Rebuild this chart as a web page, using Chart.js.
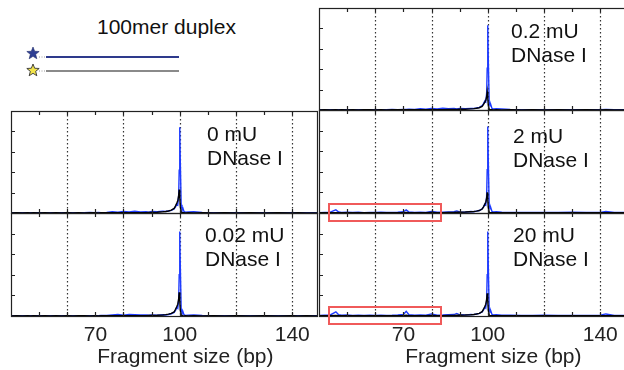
<!DOCTYPE html>
<html>
<head>
<meta charset="utf-8">
<script src="https://cdn.jsdelivr.net/npm/chart.js@4.4.1/dist/chart.umd.min.js"></script>
<style>
  html, body { margin: 0; padding: 0; background: #fff; overflow: hidden; }
  #wrap { position: relative; width: 624px; height: 370px; overflow: hidden;
          font-family: "Liberation Sans", Arial, sans-serif; color: #111; }
  #wrap canvas { position: absolute; z-index: 1; }
  .lbl { position: absolute; font-size: 21px; line-height: 24px; white-space: nowrap; z-index: 3; }
  .xtitle { position: absolute; font-size: 21px; line-height: 24px; white-space: nowrap;
            color: #222; transform: translateX(-50%); z-index: 3; }
  .redbox { position: absolute; border: 2px solid #f05a5a; box-sizing: border-box; z-index: 5; }
  #legend { position: absolute; left: 0; top: 0; }
</style>
</head>
<body>
<div id="wrap">
  <div class="lbl" style="left:97px; top:15px;">100mer duplex</div>
  <svg id="legend" width="200" height="90"></svg>
</div>
<script>
// fragment sizes (bp) shared by every trace
const sizes = [40, 42, 44, 46, 47, 48, 50, 52, 54, 56,
  58, 60, 62, 64, 66, 68, 70, 71, 72, 74,
  76, 78, 80, 82, 84, 86, 88, 89, 90, 92,
  94, 95, 96, 97, 98, 98.5, 99, 99.3, 99.6, 99.8,
  100, 100.2, 100.5, 100.8, 101.1, 101.5, 102, 103, 105, 108,
  112, 116, 120, 125, 130, 135, 140, 142, 145, 151];

// 0 mU DNase I
const blue0 = [0.002, 0.003, 0.002, 0.003, 0.002, 0.003, 0.002, 0.003, 0.002, 0.003,
  0.002, 0.003, 0.004, 0.003, 0.004, 0.005, 0.004, 0.005, 0.004, 0.006,
  0.012, 0.008, 0.015, 0.010, 0.018, 0.010, 0.012, 0.008, 0.014, 0.012,
  0.018, 0.015, 0.020, 0.025, 0.040, 0.060, 0.090, 0.080, 0.160, 0.420,
  0.840, 0.500, 0.080, 0.040, 0.050, 0.015, 0.008, 0.010, 0.012, 0.006,
  0.004, 0.003, 0.003, 0.002, 0.003, 0.002, 0.002, 0.003, 0.002, 0.002];
const black0 = [0.001, 0.002, 0.001, 0.002, 0.001, 0.002, 0.001, 0.002, 0.001, 0.002,
  0.001, 0.002, 0.001, 0.002, 0.001, 0.002, 0.002, 0.001, 0.002, 0.002,
  0.002, 0.003, 0.002, 0.003, 0.003, 0.003, 0.004, 0.005, 0.006, 0.008,
  0.012, 0.015, 0.020, 0.028, 0.045, 0.070, 0.100, 0.120, 0.170, 0.230,
  0.160, 0.060, 0.010, 0.003, 0.002, 0.002, 0.001, 0.002, 0.001, 0.002,
  0.001, 0.002, 0.001, 0.002, 0.001, 0.002, 0.001, 0.002, 0.001, 0.001];

// 0.02 mU
const blue002 = [0.002, 0.002, 0.003, 0.002, 0.003, 0.002, 0.003, 0.002, 0.003, 0.002,
  0.003, 0.002, 0.003, 0.004, 0.003, 0.004, 0.003, 0.004, 0.005, 0.006,
  0.010, 0.014, 0.008, 0.016, 0.012, 0.009, 0.011, 0.007, 0.010, 0.008,
  0.012, 0.010, 0.015, 0.022, 0.035, 0.055, 0.085, 0.075, 0.150, 0.400,
  0.820, 0.480, 0.070, 0.035, 0.045, 0.012, 0.006, 0.008, 0.010, 0.005,
  0.003, 0.003, 0.002, 0.003, 0.002, 0.003, 0.002, 0.002, 0.003, 0.002];
const black002 = [0.001, 0.002, 0.001, 0.002, 0.001, 0.002, 0.001, 0.002, 0.001, 0.002,
  0.001, 0.002, 0.001, 0.002, 0.002, 0.001, 0.002, 0.001, 0.002, 0.002,
  0.002, 0.002, 0.003, 0.003, 0.003, 0.004, 0.004, 0.005, 0.006, 0.007,
  0.010, 0.013, 0.018, 0.025, 0.040, 0.065, 0.095, 0.115, 0.165, 0.230,
  0.150, 0.055, 0.010, 0.003, 0.002, 0.001, 0.002, 0.001, 0.002, 0.001,
  0.002, 0.001, 0.002, 0.001, 0.002, 0.001, 0.002, 0.001, 0.002, 0.001];

// 0.2 mU
const blue02 = [0.003, 0.002, 0.004, 0.003, 0.002, 0.003, 0.004, 0.003, 0.002, 0.003,
  0.004, 0.003, 0.004, 0.003, 0.005, 0.004, 0.006, 0.005, 0.007, 0.006,
  0.012, 0.009, 0.016, 0.011, 0.018, 0.012, 0.015, 0.010, 0.014, 0.012,
  0.016, 0.014, 0.020, 0.026, 0.042, 0.062, 0.090, 0.080, 0.160, 0.410,
  0.830, 0.490, 0.080, 0.040, 0.050, 0.015, 0.010, 0.012, 0.010, 0.006,
  0.004, 0.003, 0.004, 0.003, 0.004, 0.003, 0.004, 0.006, 0.003, 0.003];
const black02 = [0.001, 0.002, 0.001, 0.002, 0.001, 0.002, 0.001, 0.002, 0.001, 0.002,
  0.002, 0.001, 0.002, 0.001, 0.002, 0.002, 0.002, 0.003, 0.002, 0.003,
  0.003, 0.003, 0.004, 0.003, 0.004, 0.005, 0.005, 0.006, 0.007, 0.008,
  0.011, 0.013, 0.017, 0.022, 0.035, 0.055, 0.080, 0.095, 0.130, 0.180,
  0.120, 0.045, 0.008, 0.003, 0.002, 0.002, 0.001, 0.002, 0.001, 0.002,
  0.001, 0.002, 0.001, 0.002, 0.001, 0.002, 0.001, 0.002, 0.001, 0.001];

// 2 mU
const blue2 = [0.004, 0.006, 0.008, 0.030, 0.010, 0.006, 0.008, 0.005, 0.007, 0.004,
  0.006, 0.005, 0.007, 0.005, 0.006, 0.008, 0.012, 0.030, 0.010, 0.006,
  0.008, 0.006, 0.015, 0.007, 0.008, 0.010, 0.012, 0.020, 0.010, 0.008,
  0.014, 0.012, 0.018, 0.024, 0.040, 0.060, 0.090, 0.080, 0.160, 0.420,
  0.840, 0.500, 0.080, 0.040, 0.050, 0.015, 0.010, 0.012, 0.008, 0.006,
  0.006, 0.005, 0.006, 0.005, 0.007, 0.005, 0.006, 0.015, 0.006, 0.005];
const black2 = [0.002, 0.003, 0.002, 0.004, 0.003, 0.002, 0.003, 0.002, 0.003, 0.002,
  0.003, 0.002, 0.003, 0.002, 0.003, 0.004, 0.003, 0.006, 0.004, 0.003,
  0.003, 0.004, 0.005, 0.004, 0.004, 0.005, 0.006, 0.007, 0.008, 0.009,
  0.012, 0.014, 0.018, 0.024, 0.038, 0.060, 0.088, 0.105, 0.145, 0.200,
  0.135, 0.050, 0.009, 0.003, 0.002, 0.002, 0.002, 0.003, 0.002, 0.002,
  0.002, 0.003, 0.002, 0.002, 0.003, 0.002, 0.002, 0.004, 0.002, 0.002];

// 20 mU
const blue20 = [0.005, 0.008, 0.010, 0.040, 0.012, 0.007, 0.009, 0.006, 0.008, 0.005,
  0.007, 0.006, 0.008, 0.006, 0.007, 0.010, 0.015, 0.045, 0.012, 0.007,
  0.009, 0.007, 0.020, 0.008, 0.009, 0.012, 0.014, 0.025, 0.012, 0.009,
  0.015, 0.013, 0.019, 0.025, 0.040, 0.060, 0.088, 0.078, 0.155, 0.400,
  0.820, 0.480, 0.075, 0.038, 0.048, 0.015, 0.010, 0.012, 0.008, 0.007,
  0.006, 0.005, 0.007, 0.005, 0.006, 0.005, 0.007, 0.020, 0.006, 0.005];
const black20 = [0.002, 0.003, 0.003, 0.005, 0.003, 0.002, 0.003, 0.002, 0.003, 0.002,
  0.003, 0.003, 0.002, 0.003, 0.004, 0.003, 0.004, 0.008, 0.004, 0.003,
  0.004, 0.003, 0.006, 0.004, 0.004, 0.005, 0.006, 0.008, 0.008, 0.009,
  0.012, 0.015, 0.020, 0.026, 0.042, 0.066, 0.095, 0.115, 0.160, 0.220,
  0.150, 0.055, 0.010, 0.003, 0.002, 0.002, 0.002, 0.003, 0.002, 0.002,
  0.002, 0.003, 0.002, 0.002, 0.003, 0.002, 0.002, 0.004, 0.002, 0.002];

const gridSizes = [60, 80, 100, 120, 140];
const minorTicks = [50, 60, 70, 80, 90, 100, 110, 120, 130, 140, 150];
const tickLabels = [70, 100, 140];
const yTicks = [0.2, 0.4, 0.6, 0.8];
const boxRange = [43.2, 83.7];  // highlighted short-fragment region (bp)

const X_MIN = 40;
const PX_PER_BP = 2.8125;
const PAD = 3;
const AXIS_H = 34;
const FONT = '"Liberation Sans", Arial, sans-serif';
const BLUE = '#1f3cff';

const panels = [
  { name: '0.2 mU', left: 319, top: 8, w: 313, h: 102, blue: blue02, black: black02, lx: 511, ly: 19 },
  { name: '2 mU', left: 319, top: 110, w: 313, h: 103, blue: blue2, black: black2, lx: 513, ly: 124, box: true },
  { name: '20 mU', left: 319, top: 213, w: 313, h: 103, blue: blue20, black: black20, lx: 513, ly: 223, box: true, bottom: true },
  { name: '0 mU', left: 11, top: 111, w: 306, h: 102, blue: blue0, black: black0, lx: 207, ly: 122 },
  { name: '0.02 mU', left: 11, top: 213, w: 306, h: 103, blue: blue002, black: black002, lx: 205, ly: 223, bottom: true }
];

const framePlugin = {
  id: 'frame',
  beforeDatasetsDraw(chart) {
    const { ctx, chartArea: a, scales: { x } } = chart;
    ctx.save();
    ctx.strokeStyle = '#333';
    ctx.lineWidth = 1.2;
    ctx.setLineDash([1.5, 2.5]);
    gridSizes.forEach(v => {
      const px = Math.round(x.getPixelForValue(v)) + 0.5;
      if (px > a.right) return;
      ctx.beginPath();
      ctx.moveTo(px, a.top);
      ctx.lineTo(px, a.bottom);
      ctx.stroke();
    });
    ctx.restore();
  },
  afterDatasetsDraw(chart) {
    const { ctx, chartArea: a, scales: { x, y } } = chart;
    ctx.save();
    ctx.strokeStyle = '#222';
    ctx.lineWidth = 1.2;
    ctx.beginPath();
    minorTicks.forEach(v => {
      const px = Math.round(x.getPixelForValue(v)) + 0.5;
      if (px > a.right) return;
      ctx.moveTo(px, a.top); ctx.lineTo(px, a.top + 4);
      ctx.moveTo(px, a.bottom); ctx.lineTo(px, a.bottom - 4);
    });
    yTicks.forEach(v => {
      const py = Math.round(y.getPixelForValue(v)) + 0.5;
      ctx.moveTo(a.left, py); ctx.lineTo(a.left + 4, py);
    });
    ctx.stroke();
    ctx.strokeRect(Math.round(a.left) + 0.5, Math.round(a.top) + 0.5,
      Math.round(a.right - a.left), Math.round(a.bottom - a.top));
    ctx.restore();
  }
};

const wrap = document.getElementById('wrap');
const overlays = [];

panels.forEach(p => {
  const canvas = document.createElement('canvas');
  const cw = p.w + 2 * PAD;
  const ch = PAD + p.h + (p.bottom ? AXIS_H : PAD);
  canvas.width = cw; canvas.height = ch;
  canvas.style.width = cw + 'px'; canvas.style.height = ch + 'px';
  canvas.style.left = (p.left - PAD) + 'px';
  canvas.style.top = (p.top - PAD) + 'px';
  wrap.appendChild(canvas);

  const chart = new Chart(canvas, {
    type: 'line',
    data: {
      datasets: [
        { data: sizes.map((s, i) => ({ x: s, y: p.black[i] })), borderColor: '#000',
          borderWidth: 1.4, pointRadius: 0, tension: 0 },
        { data: sizes.map((s, i) => ({ x: s, y: p.blue[i] })), borderColor: BLUE,
          borderWidth: 1.4, pointRadius: 0, tension: 0 }
      ]
    },
    options: {
      responsive: false,
      maintainAspectRatio: false,
      animation: false,
      events: [],
      layout: { padding: { left: PAD, right: PAD, top: PAD, bottom: p.bottom ? 0 : PAD } },
      plugins: { legend: { display: false }, tooltip: { enabled: false } },
      scales: {
        x: {
          type: 'linear', min: X_MIN, max: X_MIN + p.w / PX_PER_BP,
          display: !!p.bottom,
          grid: { display: false, drawTicks: false },
          border: { display: false },
          afterBuildTicks: s => { s.ticks = tickLabels.map(v => ({ value: v })); },
          afterFit: s => { if (p.bottom) s.height = AXIS_H; },
          ticks: { padding: 7, color: '#222', maxRotation: 0, autoSkip: false,
                   font: { family: FONT, size: 21 } }
        },
        y: { min: 0, max: 1, display: false }
      }
    },
    plugins: [framePlugin]
  });

  // panel label
  const lbl = document.createElement('div');
  lbl.className = 'lbl';
  lbl.style.left = p.lx + 'px';
  lbl.style.top = p.ly + 'px';
  lbl.innerHTML = p.name + '<br>DNase I';
  overlays.push(lbl);

  const ox = p.left - PAD, oy = p.top - PAD;
  if (p.box) {
    const xs = chart.scales.x, ys = chart.scales.y;
    const b = document.createElement('div');
    b.className = 'redbox';
    const x0 = Math.round(ox + xs.getPixelForValue(boxRange[0]));
    const x1 = Math.round(ox + xs.getPixelForValue(boxRange[1]));
    const y0 = Math.round(oy + ys.getPixelForValue(0.1));
    const y1 = Math.round(oy + ys.getPixelForValue(-0.085));
    b.style.left = x0 + 'px'; b.style.top = y0 + 'px';
    b.style.width = (x1 - x0) + 'px'; b.style.height = (y1 - y0) + 'px';
    overlays.push(b);
  }
  if (p.bottom) {
    const t = document.createElement('div');
    t.className = 'xtitle';
    t.textContent = 'Fragment size (bp)';
    t.style.left = (ox + chart.scales.x.getPixelForValue(102)) + 'px';
    t.style.top = '344px';
    overlays.push(t);
  }
});
overlays.forEach(el => wrap.appendChild(el));

// duplex sketch: labelled strand (blue star) and complementary strand (yellow star)
function starPoints(cx, cy, R, r) {
  const pts = [];
  for (let k = 0; k < 10; k++) {
    const ang = -Math.PI / 2 + k * Math.PI / 5;
    const rad = k % 2 === 0 ? R : r;
    pts.push((cx + rad * Math.cos(ang)).toFixed(2) + ',' + (cy + rad * Math.sin(ang)).toFixed(2));
  }
  return pts.join(' ');
}
const svg = document.getElementById('legend');
svg.innerHTML =
  '<line x1="39" y1="57" x2="46" y2="57" stroke="#999" stroke-width="1" stroke-dasharray="1,1.5"/>' +
  '<line x1="46" y1="57" x2="179" y2="57" stroke="#2e3a8c" stroke-width="2"/>' +
  '<polygon points="' + starPoints(33, 53.5, 6.5, 2.8) + '" fill="#2e3f94" stroke="#1e2a6a" stroke-width="0.6"/>' +
  '<line x1="39" y1="71" x2="46" y2="71" stroke="#999" stroke-width="1" stroke-dasharray="1,1.5"/>' +
  '<line x1="46" y1="71" x2="179" y2="71" stroke="#8a8a8a" stroke-width="2"/>' +
  '<polygon points="' + starPoints(33, 70.5, 6.5, 2.8) + '" fill="#f3e44a" stroke="#333" stroke-width="0.9"/>';
</script>
</body>
</html>
